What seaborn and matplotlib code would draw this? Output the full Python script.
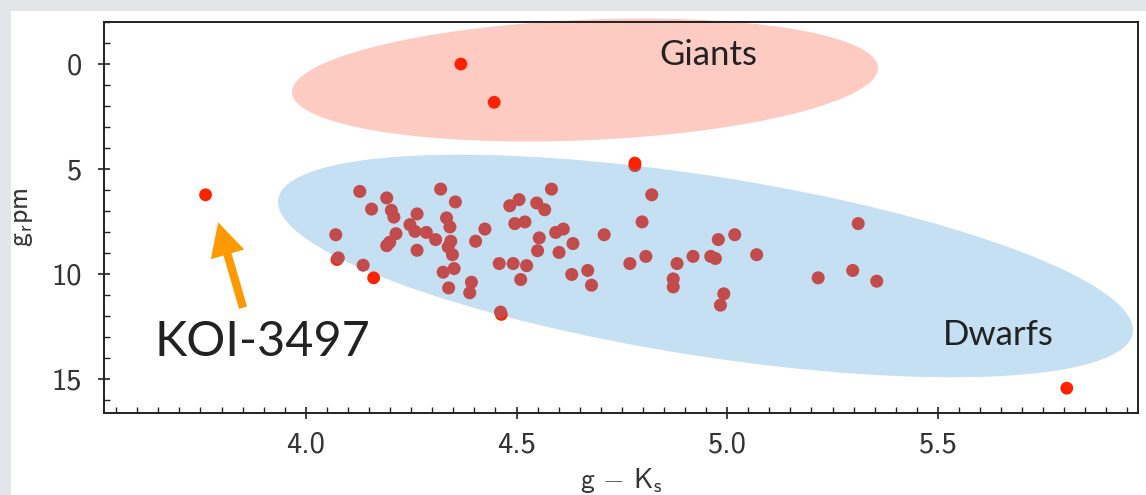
import matplotlib
matplotlib.use("Agg")
import matplotlib.pyplot as plt
from matplotlib.patches import Ellipse, Rectangle
from matplotlib.ticker import MultipleLocator, FormatStrFormatter
import seaborn as sns

# Colour-magnitude sample: g - Ks colour vs. reduced proper motion g_rpm
dwarf_gk = [4.128, 4.192, 4.156, 4.203, 4.209, 4.264, 4.320, 4.355, 4.071, 4.214,
            4.199, 4.192, 4.247, 4.259, 4.286, 4.308, 4.264, 4.334, 4.342, 4.344,
            4.338, 4.348, 4.425, 4.403, 4.077, 4.136, 4.326, 4.352, 4.339, 4.393,
            4.389, 4.583, 4.484, 4.506, 4.548, 4.567, 4.496, 4.520, 4.554, 4.550,
            4.593, 4.611, 4.634, 4.601, 4.708, 4.821, 4.798, 4.807, 4.769, 4.459,
            4.492, 4.524, 4.510, 4.631, 4.669, 4.678, 4.979, 5.018, 4.919, 4.881,
            4.961, 4.972, 5.070, 4.872, 4.872, 4.992, 4.984, 5.216, 5.311, 5.298,
            5.355, 4.781, 4.462]
dwarf_grpm = [6.06, 6.37, 6.90, 6.96, 7.28, 7.13, 5.95, 6.56, 8.12, 8.07,
              8.48, 8.64, 7.64, 7.96, 8.01, 8.35, 8.86, 7.32, 7.75, 8.43,
              8.70, 9.07, 7.85, 8.43, 9.22, 9.57, 9.90, 9.73, 10.65, 10.38,
              10.88, 5.95, 6.74, 6.45, 6.61, 6.93, 7.59, 7.51, 8.27, 8.88,
              8.01, 7.85, 8.54, 8.96, 8.12, 6.22, 7.51, 9.15, 9.49, 9.49,
              9.49, 9.59, 10.25, 10.01, 9.82, 10.52, 8.35, 8.12, 9.15, 9.49,
              9.15, 9.25, 9.07, 10.22, 10.60, 10.93, 11.47, 10.17, 7.59, 9.82,
              10.33, 4.83, 11.80]

# bright red points lying underneath the dwarf sample
field_gk = [4.074, 4.161, 4.464]
field_grpm = [9.30, 10.17, 11.91]

# bright red points drawn on top (KOI-3497, giants, outliers)
flag_gk = [3.762, 4.368, 4.447, 4.781, 5.806]
flag_grpm = [6.22, 0.00, 1.82, 4.71, 15.42]

x_ticks = [4.0, 4.5, 5.0, 5.5]
y_ticks = [0, 5, 10, 15]

DARK_RED = "#C24B4B"
BRIGHT_RED = "#FF2200"
TEXT = "#222222"

sns.set_style("ticks")
plt.rcParams["font.family"] = ["cmss10", "DejaVu Sans"]
plt.rcParams["mathtext.fontset"] = "cm"
plt.rcParams["axes.unicode_minus"] = False

fig = plt.figure(figsize=(11.46, 4.95), dpi=100)
fig.patch.set_facecolor("#E3E5E9")
# white slide card
fig.add_artist(Rectangle((11 / 1146, 0), 1, 1 - 11 / 495, transform=fig.transFigure,
                         facecolor="white", edgecolor="none", zorder=0))

ax = fig.add_axes([104 / 1146, (495 - 413) / 495, 1034 / 1146, 391 / 495])
ax.set_facecolor("white")

# highlighted regions (drawn in inches on the figure)
giants = Ellipse((5.85, 4.15), 5.865, 1.205, angle=2.45, transform=fig.dpi_scale_trans,
                 facecolor="#FECBC3", edgecolor="none", zorder=0.5, clip_on=False)
dwarfs = Ellipse((7.055, 2.29), 8.65, 1.80, angle=-8.9, transform=fig.dpi_scale_trans,
                 facecolor="#C5DFF3", edgecolor="none", zorder=0.5, clip_on=False)
ax.add_patch(giants)
ax.add_patch(dwarfs)

sns.scatterplot(x=field_gk, y=field_grpm, color=BRIGHT_RED, s=85, linewidth=0,
                edgecolor="none", ax=ax, zorder=3)
sns.scatterplot(x=dwarf_gk, y=dwarf_grpm, color=DARK_RED, s=88, linewidth=0,
                edgecolor="none", ax=ax, zorder=4)
sns.scatterplot(x=flag_gk, y=flag_grpm, color=BRIGHT_RED, s=85, linewidth=0,
                edgecolor="none", ax=ax, zorder=5)

ax.set_xlim(3.521, 5.975)
ax.set_ylim(16.6, -2.0)

ax.set_xticks(x_ticks)
ax.set_yticks(y_ticks)
ax.xaxis.set_major_formatter(FormatStrFormatter("%.1f"))
ax.yaxis.set_major_formatter(FormatStrFormatter("%d"))
ax.xaxis.set_minor_locator(MultipleLocator(0.05))
ax.yaxis.set_minor_locator(MultipleLocator(1))
ax.tick_params(which="major", direction="inout", length=8, width=1.2, color="#222222",
               labelsize=22, labelcolor="#333333", top=False, right=False)
ax.tick_params(which="minor", direction="in", length=4, width=1.0, color="#222222",
               top=False, right=False)
ax.tick_params(axis="x", which="major", pad=9)
ax.tick_params(axis="y", which="major", pad=12)

for side in ["left", "right", "top", "bottom"]:
    ax.spines[side].set_visible(True)
    ax.spines[side].set_color("#222222")
    ax.spines[side].set_linewidth(1.4)

ax.set_xlabel(r"$\mathsf{g}\,-\,\mathsf{K}_\mathsf{s}$", fontsize=20, color="#333333", labelpad=6)
ax.set_ylabel(r"$\mathsf{g}_\mathsf{r}\mathsf{pm}$", fontsize=20, color="#333333", labelpad=12)

ax.text(4.838, 0.03, "Giants", fontsize=25, family="Lato", color=TEXT, va="baseline", ha="left")
ax.text(5.512, 13.37, "Dwarfs", fontsize=25, family="Lato", color=TEXT, va="baseline", ha="left")
ax.text(3.642, 13.9, "KOI-3497", fontsize=35, family="Lato", color=TEXT, va="baseline", ha="left")

ax.annotate("", xy=(3.792, 7.53), xytext=(3.851, 11.59),
            arrowprops=dict(arrowstyle="simple,head_length=24,head_width=25,tail_width=6",
                            mutation_scale=1, color="#FF9900", lw=0,
                            shrinkA=0, shrinkB=0))

fig.savefig("out.png", dpi=100, facecolor=fig.get_facecolor())
